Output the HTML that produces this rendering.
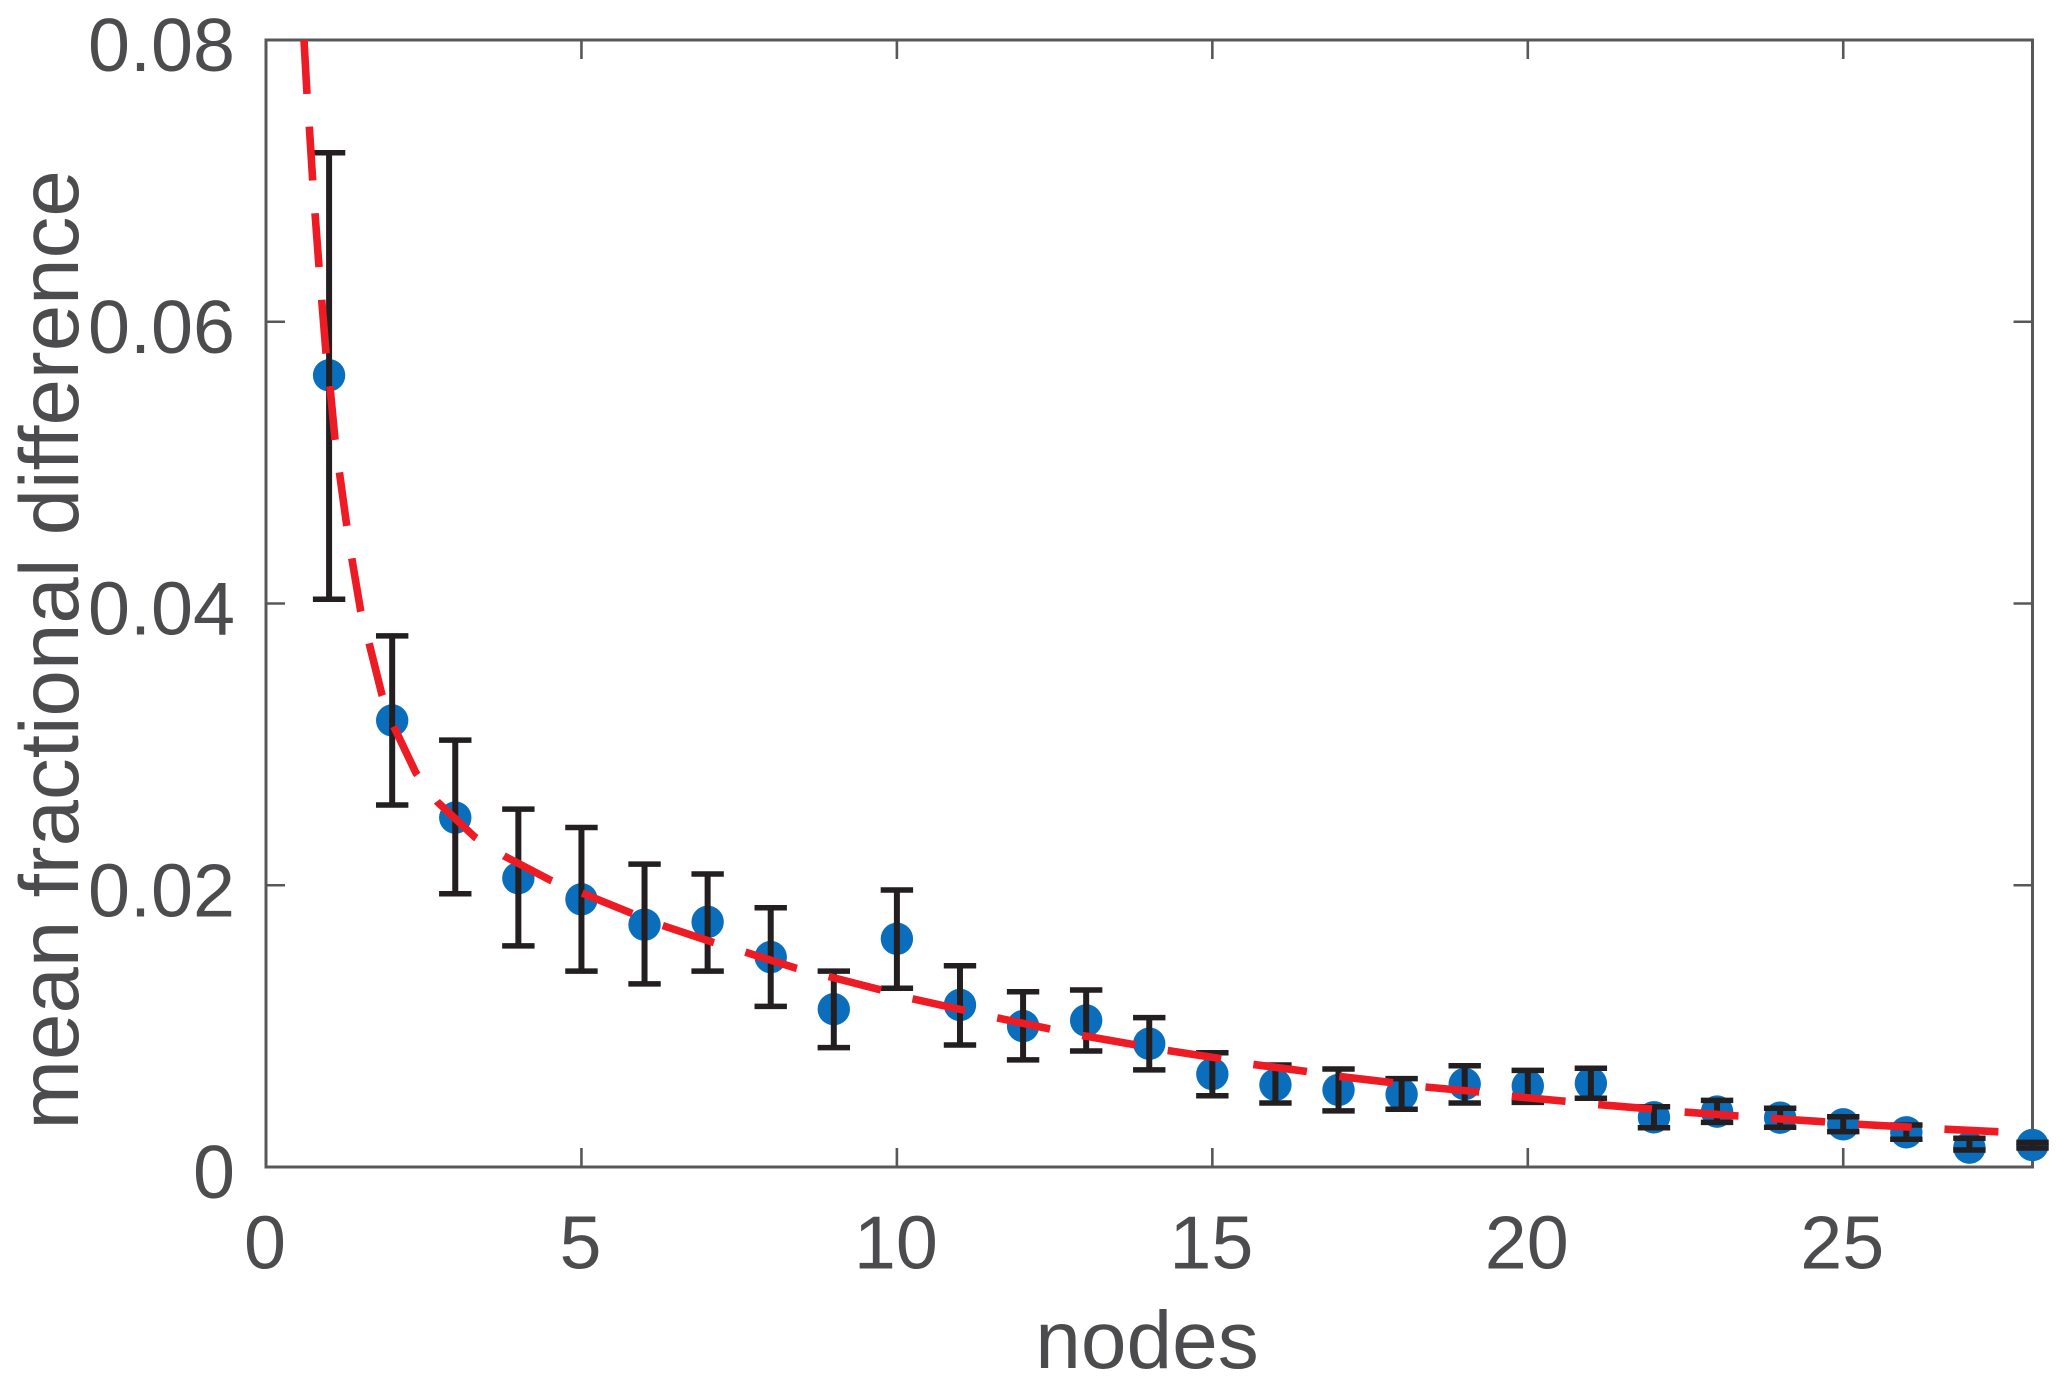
<!DOCTYPE html>
<html>
<head>
<meta charset="utf-8">
<title>Mean fractional difference vs nodes</title>
<style>
html,body{margin:0;padding:0;background:#fff;}
svg{display:block;}
text{font-family:"Liberation Sans",Arial,sans-serif;fill:#4c4c4e;}
</style>
</head>
<body>
<svg id="chart" xmlns="http://www.w3.org/2000/svg" width="2067" height="1388" viewBox="0 0 2067 1388">
<rect x="0" y="0" width="2067" height="1388" fill="#ffffff"/>
<g id="axes"></g>
<g id="markers"></g>
<g id="errors"></g>
<g id="fit"></g>
<text x="1147" y="1368" font-size="82" text-anchor="middle">nodes</text>
<text transform="translate(78,1129.5) rotate(-90)" font-size="83.5" text-anchor="start">mean fractional difference</text>
</svg>
<script>
const nodes = [1,2,3,4,5,6,7,8,9,10,11,12,13,14,15,16,17,18,19,20,21,22,23,24,25,26,27,28];
const meanValues = [.0562,.0317,.0248,.0205,.0190,.0172,.0174,.0149,.0112,.0162,.0115,.0100,.0104,.00875,.0066,.00584,.00547,.00516,.00589,.00575,.00594,.00353,.00393,.0035,.00303,.00246,.00137,.00156];
const upperValues = [.0720,.0377,.0303,.0254,.0241,.0215,.0208,.0184,.0139,.01966,.01429,.01244,.01256,.0106,.00811,.00724,.00696,.00627,.00719,.00686,.00701,.00428,.00473,.00417,.00357,.00298,.00204,.00175];
const lowerValues = [.0403,.0257,.0194,.0157,.0139,.0130,.0139,.0114,.00847,.01269,.00866,.0076,.00823,.00689,.00506,.00454,.00398,.0041,.00454,.00459,.00488,.00279,.00317,.00282,.00251,.00197,.00121,.00135];
const fitNodes = [.602,.650,.687,.740,.777,.840,.883,.951,1.014,1.093,1.162,1.279,1.358,1.501,1.633,1.839,2.021,2.378,2.718,3.306,3.772,4.502,5.009,5.785,6.261,7.069,7.592,8.385,8.887,9.716,10.219,11.053,11.555,12.39,12.902,13.737,14.249,15.094,15.597,16.453,16.955,17.806,18.329,19.174,19.69,20.53,21.06,21.9,22.43,23.27,23.78,24.65,25.16,26.02,26.54,27.39,27.96];
const fitValues = [.08,.07617,.07385,.07002,.06772,.06391,.06155,.05778,.05539,.05166,.04936,.04555,.04325,.03947,.0372,.03351,.03131,.02797,.02591,.02343,.02208,.02037,.01945,.01803,.01718,.01597,.01526,.01413,.01356,.01261,.01197,.01114,.01062,.00983,.00936,.0087,.0083,.00772,.00731,.00681,.00646,.00601,.0057,.00535,.00504,.00469,.00445,.00414,.00392,.00364,.00348,.00322,.00305,.00284,.0027,.00251,.00241];
const xTicks = [0,5,10,15,20,25];
const xTickLabels = ["0","5","10","15","20","25"];
const yTicks = [0,.02,.04,.06,.08];
const yTickLabels = ["0","0.02","0.04","0.06","0.08"];

const NS = "http://www.w3.org/2000/svg";
const plotLeft = 266, plotRight = 2032.5, plotTop = 40, plotBottom = 1167;
const xMax = 28, yMax = 0.08;
function xScale(v){ return plotLeft + (v / xMax) * (plotRight - plotLeft); }
function yScale(v){ return plotBottom - (v / yMax) * (plotBottom - plotTop); }
function make(tag, parent, attrs){
  const el = document.createElementNS(NS, tag);
  for (const k in attrs) el.setAttribute(k, attrs[k]);
  parent.appendChild(el);
  return el;
}
const axesG = document.getElementById("axes");
const markersG = document.getElementById("markers");
const errorsG = document.getElementById("errors");
const fitG = document.getElementById("fit");
const axisColor = "#58585a", tickLen = 19;

const frame = make("rect", axesG, {x:plotLeft, y:plotTop, width:plotRight-plotLeft, height:plotBottom-plotTop, fill:"none", stroke:axisColor, "stroke-width":3});



xTicks.forEach(function(v, i){
  const x = xScale(v);
  const bottomTick = make("line", axesG, {x1:x, x2:x, y1:plotBottom, y2:plotBottom-tickLen, stroke:axisColor, "stroke-width":2.6});
  
  
  const topTick = make("line", axesG, {x1:x, x2:x, y1:plotTop, y2:plotTop+tickLen, stroke:axisColor, "stroke-width":2.6});
  
  
  const label = make("text", axesG, {x:x-1, y:1268.5, "font-size":75.5, "text-anchor":"middle"});
  label.textContent = xTickLabels[i];
  
  
});

yTicks.forEach(function(v, i){
  const y = yScale(v);
  const leftTick = make("line", axesG, {x1:plotLeft, x2:plotLeft+tickLen, y1:y, y2:y, stroke:axisColor, "stroke-width":2.6});
  
  
  const rightTick = make("line", axesG, {x1:plotRight, x2:plotRight-tickLen, y1:y, y2:y, stroke:axisColor, "stroke-width":2.6});
  
  
  const label = make("text", axesG, {x:235, y:y+31, "font-size":75.5, "text-anchor":"end"});
  label.textContent = yTickLabels[i];
  
  
});

nodes.forEach(function(n, i){
  const x = xScale(n);
  const dot = make("circle", markersG, {cx:x, cy:yScale(meanValues[i]), r:16.2, fill:"#0a6ebd"});
  
  

  const hi = yScale(upperValues[i]), lo = yScale(lowerValues[i]);
  const stem = make("line", errorsG, {x1:x, x2:x, y1:hi, y2:lo, stroke:"#231f20", "stroke-width":6});
  
  
  const capTop = make("line", errorsG, {x1:x-16.2, x2:x+16.2, y1:hi, y2:hi, stroke:"#231f20", "stroke-width":5.5});
  
  
  const capBottom = make("line", errorsG, {x1:x-16.2, x2:x+16.2, y1:lo, y2:lo, stroke:"#231f20", "stroke-width":5.5});
  
  
});

const fitPoints = fitNodes.map(function(n, i){ return xScale(n).toFixed(1) + "," + yScale(fitValues[i]).toFixed(1); }).join(" ");
const fitLine = make("polyline", fitG, {points:fitPoints, fill:"none", stroke:"#ed1c24", "stroke-width":7.6, "stroke-dasharray":"54 32.8", "stroke-linejoin":"round"});


</script>
</body>
</html>
